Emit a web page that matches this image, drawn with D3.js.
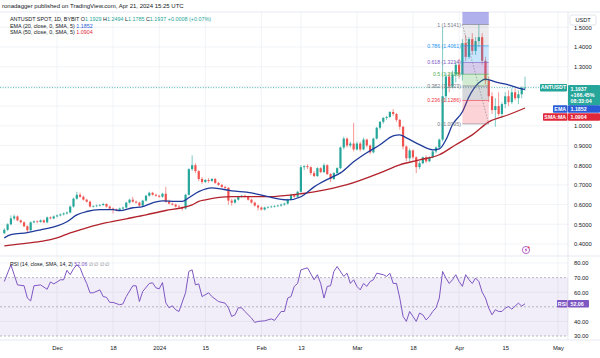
<!DOCTYPE html>
<html>
<head>
<meta charset="utf-8">
<script src="https://cdn.jsdelivr.net/npm/d3@7"></script>
<style>
  body { margin: 0; background: #fff; }
  svg { font-family: "Liberation Sans", Arial, sans-serif; }
</style>
</head>
<body>
<svg id="chart" width="600" height="358"></svg>
<script>
// daily candles from 2023-11-15, [open, high, low, close]
const candles = [
  [.455,.48,.45,.472],[.472,.505,.465,.50],[.50,.545,.495,.53],[.53,.55,.52,.54],[.54,.545,.515,.52],
  [.52,.525,.505,.51],[.51,.515,.485,.49],[.49,.495,.46,.47],[.47,.515,.465,.51],[.51,.52,.505,.515],
  [.515,.52,.505,.512],[.512,.525,.508,.52],[.52,.525,.505,.51],[.51,.54,.505,.535],[.535,.54,.525,.53],
  [.53,.545,.525,.54],[.54,.55,.535,.545],[.545,.555,.54,.55],[.55,.56,.545,.555],[.555,.565,.55,.56],
  [.56,.595,.555,.59],[.59,.635,.585,.63],[.63,.665,.625,.65],[.65,.66,.635,.64],[.64,.645,.62,.625],
  [.625,.63,.61,.615],[.615,.62,.585,.59],[.59,.598,.585,.592],[.592,.60,.587,.595],[.595,.603,.59,.598],
  [.598,.61,.593,.603],[.603,.607,.585,.59],[.59,.595,.575,.58],[.58,.585,.555,.575],[.575,.58,.565,.572],
  [.572,.585,.568,.58],[.58,.59,.575,.585],[.585,.615,.58,.61],[.61,.63,.605,.625],[.625,.64,.61,.615],
  [.615,.62,.605,.61],[.61,.615,.59,.595],[.595,.625,.59,.62],[.62,.65,.615,.645],[.645,.665,.64,.66],
  [.66,.665,.645,.65],[.65,.655,.64,.645],[.645,.65,.635,.64],[.64,.66,.635,.655],[.655,.69,.61,.615],
  [.615,.625,.60,.605],[.605,.61,.595,.60],[.60,.605,.585,.59],[.59,.598,.582,.588],[.588,.592,.57,.58],
  [.58,.655,.575,.65],[.65,.785,.645,.78],[.78,.85,.77,.80],[.80,.81,.76,.77],[.77,.775,.72,.73],
  [.73,.74,.705,.715],[.715,.73,.71,.725],[.725,.735,.71,.72],[.72,.735,.715,.73],[.73,.735,.705,.71],
  [.71,.715,.695,.70],[.70,.705,.685,.69],[.69,.695,.675,.685],[.685,.69,.60,.62],[.62,.63,.595,.61],
  [.61,.63,.605,.625],[.625,.645,.62,.64],[.64,.65,.635,.645],[.645,.65,.635,.64],[.64,.645,.62,.625],
  [.625,.63,.605,.61],[.61,.615,.59,.595],[.595,.60,.57,.585],[.585,.59,.57,.575],[.575,.59,.57,.585],
  [.585,.592,.58,.588],[.588,.595,.583,.59],[.59,.597,.585,.593],[.593,.60,.588,.595],[.595,.605,.59,.60],
  [.60,.61,.595,.605],[.605,.63,.60,.625],[.625,.655,.62,.65],[.65,.655,.635,.64],[.64,.67,.635,.665],
  [.665,.80,.66,.79],[.79,.80,.775,.795],[.795,.805,.78,.79],[.79,.795,.75,.76],[.76,.77,.74,.745],
  [.745,.79,.74,.785],[.785,.79,.76,.765],[.765,.81,.76,.80],[.80,.805,.75,.755],[.755,.76,.715,.73],
  [.73,.765,.725,.76],[.76,.79,.755,.785],[.785,.895,.78,.89],[.89,.945,.88,.935],[.935,.94,.89,.90],
  [.90,.92,.89,.91],[.91,1.015,.87,.88],[.88,.92,.875,.91],[.91,.92,.87,.88],[.88,.94,.875,.93],
  [.93,.935,.89,.90],[.90,.905,.855,.865],[.865,.94,.86,.935],[.935,.995,.93,.99],[.99,1.025,.98,1.02],
  [1.02,1.045,1.01,1.04],[1.04,1.05,1.03,1.045],[1.045,1.075,1.04,1.07],[1.07,1.085,1.05,1.06],[1.06,1.065,1.02,1.03],
  [1.03,1.035,.98,.995],[.995,1.0,.88,.895],[.895,.90,.82,.835],[.835,.885,.82,.875],[.875,.88,.83,.84],
  [.84,.845,.76,.79],[.79,.82,.78,.81],[.81,.845,.805,.84],[.84,.85,.81,.82],[.82,.845,.815,.84],
  [.84,.875,.835,.87],[.87,.895,.86,.89],[.89,.935,.88,.93],[.93,1.50,.92,1.15],[1.15,1.27,1.12,1.25],
  [1.25,1.27,1.17,1.20],[1.20,1.28,1.19,1.26],[1.26,1.33,1.22,1.31],[1.31,1.34,1.24,1.26],[1.26,1.44,1.23,1.42],
  [1.42,1.46,1.33,1.35],[1.35,1.45,1.34,1.44],[1.44,1.47,1.36,1.38],[1.38,1.45,1.36,1.43],[1.43,1.514,1.40,1.45],
  [1.45,1.47,1.31,1.33],[1.33,1.35,1.21,1.23],[1.23,1.25,1.12,1.15],[1.15,1.17,1.06,1.08],[1.08,1.14,.995,1.10],
  [1.10,1.17,1.05,1.06],[1.06,1.12,1.04,1.11],[1.11,1.17,1.09,1.15],[1.15,1.18,1.10,1.12],[1.12,1.19,1.11,1.17],
  [1.17,1.19,1.13,1.14],[1.14,1.18,1.11,1.16],[1.16,1.20,1.14,1.1929],[1.1929,1.2494,1.1785,1.1937]
];

// moving averages, [day index, price]
const emaPts = [[0,.431],[2,.447],[7,.458],[11,.472],[16,.492],[19,.513],[22,.548],[25,.565],[29,.574],[33,.574],
  [35,.569],[39,.584],[42,.59],[45,.609],[48,.619],[52,.616],[54,.616],[56,.635],[59,.666],[63,.685],[69,.67],
  [75,.66],[80,.64],[86,.624],[90,.64],[94,.69],[99,.736],[102,.761],[106,.817],[110,.863],[114,.904],[118,.949],
  [120,.954],[122,.939],[126,.904],[130,.878],[132,.883],[134,.929],[136,1.005],[139,1.071],[141,1.147],
  [144,1.218],[146,1.237],[149,1.223],[153,1.208],[157,1.188],[158,1.1852]];
const smaPts = [[0,.391],[5,.401],[11,.413],[16,.431],[20,.457],[25,.482],[31,.508],[37,.528],[43,.548],[49,.57],
  [54,.584],[57,.599],[59,.616],[61,.624],[69,.64],[80,.64],[90,.655],[94,.665],[104,.701],[114,.761],[120,.802],
  [126,.827],[132,.853],[137,.904],[142,.954],[147,1.02],[153,1.056],[158,1.0904]];

// RSI (14), [day index, value]
const rsiPts = [[0,67.3],[2,78.8],[3,72],[4,65],[6,64.4],[7,56],[8,54],[9,64.4],[11,65],[13,62],[14,67],[15,65.7],
  [16,67],[17,68.5],[18,68.5],[19,75],[20,72],[21,76],[22,78.8],[23,76.7],[24,70.8],[25,66],[26,59.6],[27,59.6],
  [29,61.6],[30,57],[31,56.5],[32,53],[33,53],[35,51.4],[36,52],[37,57],[39,64.4],[40,64.4],[41,53.6],[42,60.5],
  [44,66],[45,66.4],[46,63],[47,62.3],[48,66.6],[49,52.7],[50,49.3],[51,50.7],[52,48],[53,46.8],[55,59.6],[56,74.2],
  [57,75.3],[58,65],[59,65.7],[60,57],[62,59.6],[63,57],[65,53.6],[67,52.5],[68,49.3],[69,43.4],[70,44.5],[71,49.3],
  [72,49.3],[73,46.8],[75,42.3],[76,39.3],[77,40],[79,40.4],[81,41.7],[82,40.7],[84,46.8],[85,46.8],[86,56],[87,57],
  [88,64],[89,66],[90,75.3],[92,76.7],[94,68.5],[95,72],[96,66],[97,56],[98,64],[99,64.4],[100,74.2],[101,77.6],
  [103,70.8],[104,73],[105,66],[106,68.5],[107,64],[108,61.6],[109,66],[110,64],[111,67.3],[112,68.5],[113,73],
  [115,72],[116,70.8],[117,73],[118,66],[119,66],[120,56],[121,43.4],[122,40],[123,46.8],[124,43.4],[125,40],
  [126,45.7],[127,44.5],[128,41],[129,43.4],[130,46.8],[131,49.3],[132,56],[133,74.2],[134,69.7],[135,66],
  [136,68.5],[137,72],[138,67.3],[139,64],[140,72],[141,68.5],[142,66],[143,69.7],[144,67.3],[145,60],[146,56],
  [147,49.1],[148,44.5],[149,48],[150,46.8],[151,46.8],[152,49.1],[153,50.2],[154,48.4],[155,50.5],[156,52.5],
  [157,50.5],[158,52.06]];

const priceTicks = [0.4, 0.5, 0.6, 0.7, 0.8, 0.9, 1.0, 1.1, 1.2, 1.3, 1.4, 1.5];
const priceLabels = [0.4, 0.5, 0.6, 0.7, 0.8, 0.9, 1.0, 1.3, 1.4, 1.5];   // 1.1 / 1.2 sit under the tags
const rsiLabels = [30, 40, 60, 70, 80];                                   // 50 sits under the RSI tag
const timeTicks = ["2023-12-01","2023-12-18","2024-01-01","2024-01-15","2024-02-01","2024-02-13",
  "2024-03-01","2024-03-18","2024-04-01","2024-04-15","2024-05-01"];
const timeLabels = ["Dec","18","2024","15","Feb","13","Mar","18","Apr","15","May"];

// fib retracement drawn on the chart
const fibLevels = [0, 0.236, 0.382, 0.5, 0.618, 0.786, 1];
const fibPrices = [1.0095, 1.1286, 1.2023, 1.2618, 1.3214, 1.4061, 1.5141];
const fibSpan = [139, 147];

const lastPrice = 1.1937, rsiLast = 52.06;

const svg = d3.select("#chart");
const plotRight = 568, paneTop = 12, paneBottom = 256, rsiBottom = 340;
const up = "#26a69a", down = "#ef5350", grid = "#eef0f4";

const day = i => new Date(Date.UTC(2023, 10, 15 + i));
const x = d3.scaleUtc().domain([day(0), day(158)]).range([4.3, 525]);
const y = d3.scaleLinear().domain([0.4, 1.5]).range([244, 27.3]);
const yR = d3.scaleLinear().domain([30, 80]).range([336, 263]);
const tickDates = timeTicks.map(s => new Date(s + "T00:00:00Z"));

svg.append("rect").attr("width", 600).attr("height", 358).attr("fill", "#fff");

// clips
const defs = svg.append("defs");
defs.append("clipPath").attr("id", "mainClip").append("rect")
  .attr("x", 0).attr("y", paneTop).attr("width", plotRight).attr("height", paneBottom - paneTop);
defs.append("clipPath").attr("id", "rsiClip").append("rect")
  .attr("x", 0).attr("y", paneBottom).attr("width", plotRight).attr("height", rsiBottom - paneBottom);

// grid
const gridG = svg.append("g");
gridG.selectAll(".vg").data(tickDates).enter().append("line")
  .attr("x1", d => x(d)).attr("x2", d => x(d)).attr("y1", paneTop).attr("y2", rsiBottom)
  .attr("stroke", grid).attr("stroke-width", 0.8);
gridG.selectAll(".hg").data(priceTicks).enter().append("line")
  .attr("x1", 0).attr("x2", plotRight).attr("y1", d => y(d)).attr("y2", d => y(d))
  .attr("stroke", grid).attr("stroke-width", 0.8);
gridG.selectAll(".rg").data([40, 60, 80]).enter().append("line")
  .attr("x1", 0).attr("x2", plotRight).attr("y1", d => yR(d)).attr("y2", d => yR(d))
  .attr("stroke", grid).attr("stroke-width", 0.8);

// frame lines
svg.append("line").attr("x1", 0).attr("x2", 600).attr("y1", paneTop).attr("y2", paneTop).attr("stroke", "#e0e3eb").attr("stroke-width", 0.8);
svg.append("line").attr("x1", 0).attr("x2", 600).attr("y1", paneBottom).attr("y2", paneBottom).attr("stroke", "#e0e3eb").attr("stroke-width", 0.8);
svg.append("line").attr("x1", 0).attr("x2", 600).attr("y1", rsiBottom).attr("y2", rsiBottom).attr("stroke", "#e0e3eb").attr("stroke-width", 0.8);
svg.append("line").attr("x1", plotRight).attr("x2", plotRight).attr("y1", paneTop).attr("y2", rsiBottom).attr("stroke", "#e0e3eb").attr("stroke-width", 0.8);

// main pane
const main = svg.append("g").attr("clip-path", "url(#mainClip)");

main.append("line").attr("x1", 0).attr("x2", 540)
  .attr("y1", y(lastPrice)).attr("y2", y(lastPrice))
  .attr("stroke", up).attr("stroke-width", 0.8).attr("stroke-dasharray", "1,1.6");

const cg = main.selectAll(".c").data(candles).enter().append("g");
cg.append("line")
  .attr("x1", (d, i) => x(day(i))).attr("x2", (d, i) => x(day(i)))
  .attr("y1", d => y(d[1])).attr("y2", d => y(d[2]))
  .attr("stroke", d => d[3] >= d[0] ? up : down).attr("stroke-width", 0.6);
cg.append("rect")
  .attr("x", (d, i) => x(day(i)) - 1.1).attr("width", 2.2)
  .attr("y", d => y(Math.max(d[0], d[3])))
  .attr("height", d => Math.max(0.6, Math.abs(y(d[0]) - y(d[3]))))
  .attr("fill", d => d[3] >= d[0] ? up : down);

const maLine = d3.line().x(d => x(day(d[0]))).y(d => y(d[1])).curve(d3.curveMonotoneX);
main.append("path").datum(smaPts).attr("d", maLine)
  .attr("fill", "none").attr("stroke", "#b2222c").attr("stroke-width", 1.3);
main.append("path").datum(emaPts).attr("d", maLine)
  .attr("fill", "none").attr("stroke", "#1e3a9a").attr("stroke-width", 1.3);

// fib retracement
const fx0 = x(day(fibSpan[0])), fx1 = x(day(fibSpan[1]));
const bandFill = ["rgba(242,54,69,0.22)", "rgba(120,123,134,0.3)", "rgba(76,175,80,0.25)",
  "rgba(126,87,194,0.3)", "rgba(33,150,243,0.25)", "rgba(120,123,134,0.15)"];
const lvlColor = ["#787b86", "#f23645", "#787b86", "#4caf50", "#7e57c2", "#2196f3", "#787b86"];
const fib = main.append("g");
fib.append("rect").attr("x", fx0).attr("width", fx1 - fx0)
  .attr("y", paneTop).attr("height", y(fibPrices[6]) - paneTop)
  .attr("fill", "rgba(80,80,215,0.45)");
fib.selectAll(".band").data(bandFill).enter().append("rect")
  .attr("x", fx0).attr("width", fx1 - fx0)
  .attr("y", (d, i) => y(fibPrices[i + 1]))
  .attr("height", (d, i) => y(fibPrices[i]) - y(fibPrices[i + 1]))
  .attr("fill", d => d);
fib.selectAll(".lvl").data(fibPrices).enter().append("line")
  .attr("x1", fx0).attr("x2", fx1).attr("y1", d => y(d)).attr("y2", d => y(d))
  .attr("stroke", (d, i) => lvlColor[i]).attr("stroke-width", 0.6);
fib.append("line").attr("x1", fx0).attr("x2", fx1)
  .attr("y1", y(fibPrices[6])).attr("y2", y(fibPrices[0]))
  .attr("stroke", "#787b86").attr("stroke-width", 0.6).attr("stroke-dasharray", "1.5,1.5");
fib.selectAll(".lbl").data(fibPrices).enter().append("text")
  .attr("x", fx0 - 1.5).attr("y", d => y(d) + 2).attr("text-anchor", "end")
  .attr("font-size", 5.2).attr("fill", (d, i) => lvlColor[i])
  .text((d, i) => `${fibLevels[i]} (${d.toFixed(4)})`);

// RSI pane
const rsiG = svg.append("g").attr("clip-path", "url(#rsiClip)");
rsiG.append("rect").attr("x", 0).attr("width", plotRight)
  .attr("y", yR(70)).attr("height", yR(30) - yR(70)).attr("fill", "rgba(126,87,194,0.1)");
rsiG.selectAll(".dl").data([70, 50, 30]).enter().append("line")
  .attr("x1", 0).attr("x2", plotRight).attr("y1", d => yR(d)).attr("y2", d => yR(d))
  .attr("stroke", "#8a8d96").attr("stroke-width", 0.6).attr("stroke-dasharray", "2,2");
rsiG.append("path").datum(rsiPts)
  .attr("d", d3.line().x(d => x(day(d[0]))).y(d => yR(d[1])))
  .attr("fill", "none").attr("stroke", "#7e57c2").attr("stroke-width", 1);

// axes
const axisText = g => g.selectAll("text").attr("font-size", 5.8).attr("fill", "#131722");
svg.append("g").attr("transform", `translate(${plotRight + 3},0)`)
  .call(d3.axisRight(y).tickValues(priceLabels).tickFormat(d3.format(".4f")).tickSize(0))
  .call(g => g.select(".domain").remove()).call(axisText);
svg.append("g").attr("transform", `translate(${plotRight + 3},0)`)
  .call(d3.axisRight(yR).tickValues(rsiLabels).tickFormat(d3.format(".2f")).tickSize(0))
  .call(g => g.select(".domain").remove()).call(axisText);
svg.append("g").attr("transform", `translate(0,${rsiBottom + 3})`)
  .call(d3.axisBottom(x).tickValues(tickDates).tickFormat((d, i) => timeLabels[i]).tickSize(0))
  .call(g => g.select(".domain").remove()).call(axisText);

// price tags
function tag(x0, w, yc, h, fill, lines, anchor) {
  svg.append("rect").attr("x", x0).attr("y", yc - h / 2).attr("width", w).attr("height", h)
    .attr("fill", fill).attr("rx", 0.8);
  lines.forEach((t, k) => {
    svg.append("text").attr("x", anchor === "middle" ? x0 + w / 2 : x0 + 2.5)
      .attr("y", yc - h / 2 + 5.6 + k * 6.2).attr("text-anchor", anchor || "start")
      .attr("font-size", 5.3).attr("font-weight", "bold").attr("fill", "#fff").text(t);
  });
}
const ly = y(lastPrice);
tag(540, 27, ly, 7.5, up, ["ANTUSDT"], "middle");
tag(plotRight, 32, ly + 7.6, 20.5, up, ["1.1937", "+166.45%", "08:33:04"]);
tag(553, 14.5, 109, 7.5, "#2a5bd7", ["EMA"], "middle");
tag(plotRight, 32, 109, 7.5, "#2a5bd7", ["1.1852"]);
tag(543, 24.5, 117, 7.5, "#e0283a", ["SMA:MA"], "middle");
tag(plotRight, 32, 117, 7.5, "#e0283a", ["1.0904"]);
tag(557, 10.5, yR(rsiLast), 7.5, "#7e57c2", ["RSI"], "middle");
tag(plotRight, 21, yR(rsiLast), 7.5, "#7e57c2", ["52.06"]);

// currency box
svg.append("rect").attr("x", 570).attr("y", 15).attr("width", 26).attr("height", 10)
  .attr("fill", "#fff").attr("stroke", "#d1d4dc").attr("stroke-width", 0.6).attr("rx", 1.5);
svg.append("text").attr("x", 583).attr("y", 22).attr("text-anchor", "middle")
  .attr("font-size", 5.6).attr("fill", "#131722").text("USDT");

// event marker
const ev = svg.append("g").attr("transform", "translate(526,250)");
ev.append("circle").attr("r", 3.6).attr("fill", "#fff").attr("stroke", "#9c27b0").attr("stroke-width", 0.7);
ev.append("path").attr("d", "M0.6,-2.4 L-1.3,0.3 L0,0.3 L-0.6,2.4 L1.3,-0.4 L0,-0.4 Z").attr("fill", "#9c27b0");
ev.append("circle").attr("cx", 2.6).attr("cy", -2.6).attr("r", 0.9).attr("fill", "#f23645");

// header and legends
svg.append("text").attr("x", 2).attr("y", 7.5).attr("font-size", 6).attr("fill", "#131722")
  .text("ronadagger published on TradingView.com, Apr 21, 2024 15:25 UTC");

const leg = svg.append("text").attr("x", 10).attr("y", 21).attr("font-size", 5.4).attr("fill", "#131722");
leg.append("tspan").text("ANTUSDT SPOT, 1D, BYBIT  ");
[["O", "1.1929"], ["H", "1.2494"], ["L", "1.1785"], ["C", "1.1937"]].forEach(([k, v]) => {
  leg.append("tspan").text(k);
  leg.append("tspan").attr("fill", up).text(v + " ");
});
leg.append("tspan").attr("fill", up).text("+0.0008 (+0.07%)");

const leg2 = svg.append("text").attr("x", 10).attr("y", 27.5).attr("font-size", 5.4).attr("fill", "#131722");
leg2.append("tspan").text("EMA (20, close, 0, SMA, 5)  ");
leg2.append("tspan").attr("fill", "#2a5bd7").text("1.1852");
const leg3 = svg.append("text").attr("x", 10).attr("y", 33.5).attr("font-size", 5.4).attr("fill", "#131722");
leg3.append("tspan").text("SMA (50, close, 0, SMA, 5)  ");
leg3.append("tspan").attr("fill", "#e0283a").text("1.0904");

const leg4 = svg.append("text").attr("x", 10).attr("y", 266).attr("font-size", 5.2).attr("fill", "#131722");
leg4.append("tspan").text("RSI (14, close, SMA, 14, 2)  ");
leg4.append("tspan").attr("fill", "#7e57c2").text("52.06");
leg4.append("tspan").attr("fill", "#787b86").text("  ∅  ∅  ∅  ∅");
</script>
</body>
</html>
